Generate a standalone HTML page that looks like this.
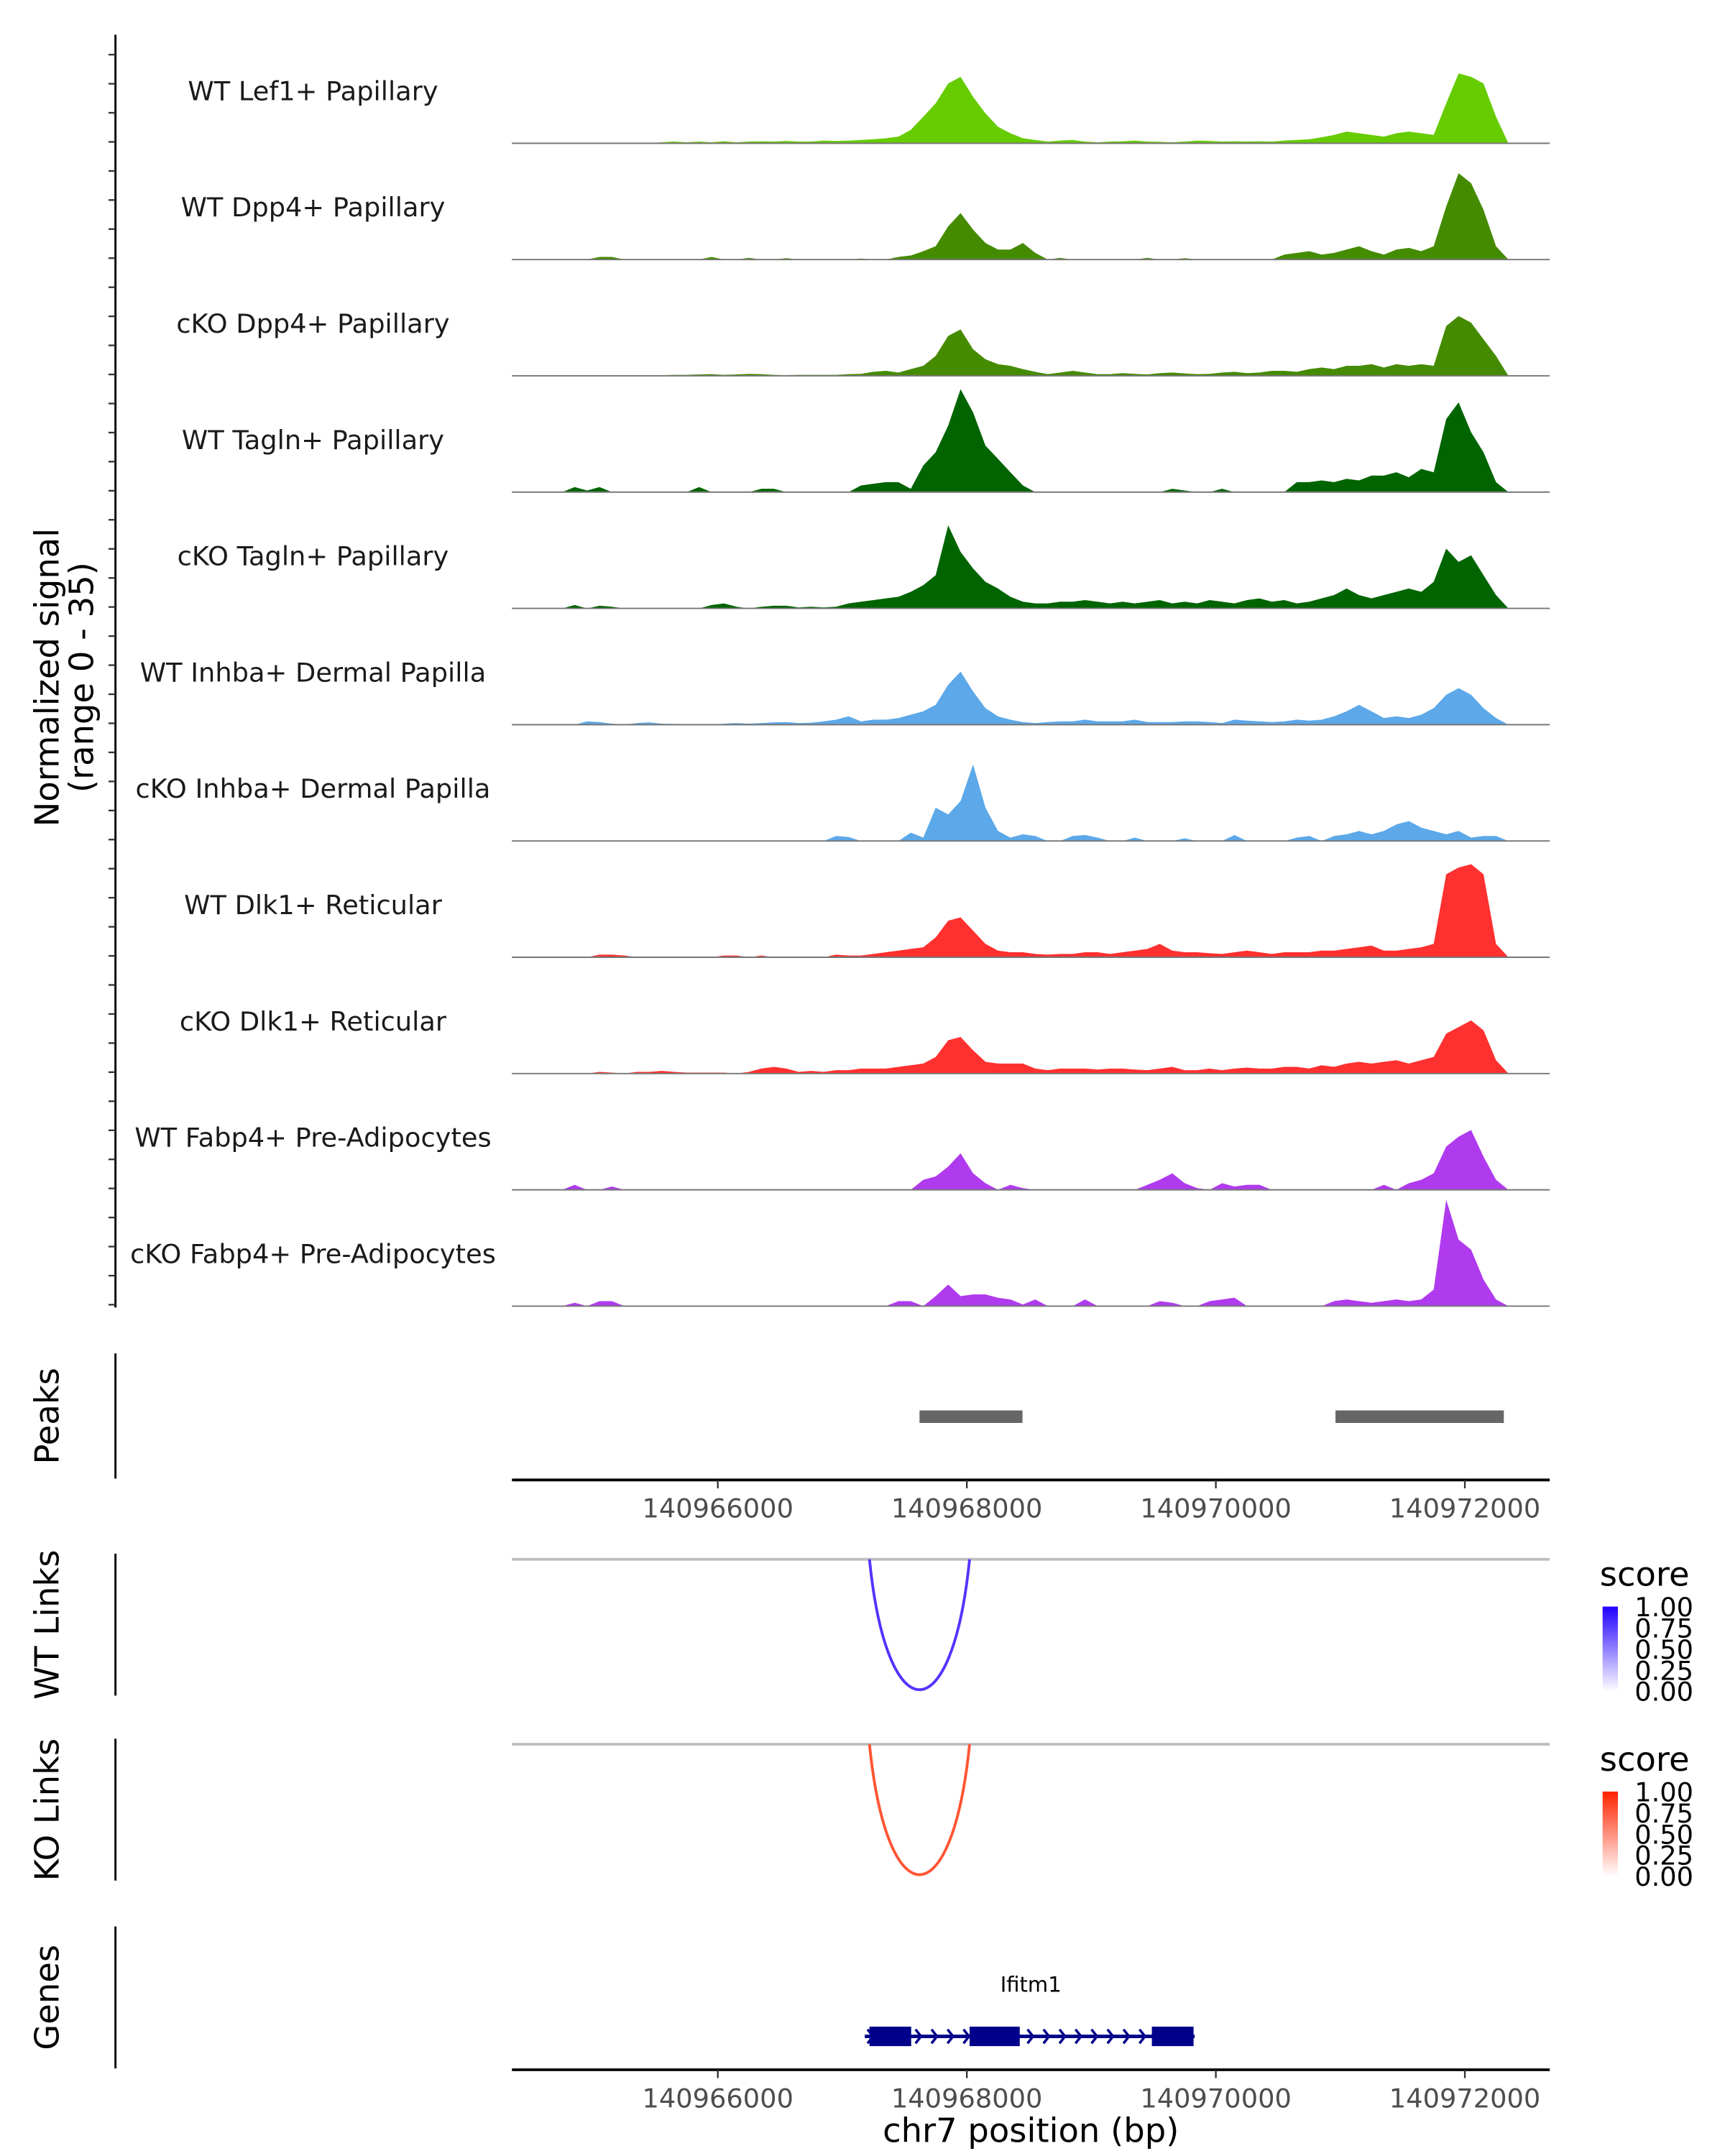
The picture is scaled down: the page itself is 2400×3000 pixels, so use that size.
<!DOCTYPE html>
<html><head><meta charset="utf-8"><style>
html,body{margin:0;padding:0;background:#fff}
svg{display:block}
text{font-family:"DejaVu Sans","Liberation Sans",sans-serif}
</style></head><body>
<svg id="chart" width="2400" height="3000" viewBox="0 0 1240 1550" xmlns="http://www.w3.org/2000/svg"></svg>
<script>
const binStart = 140964700;
const binSize = 100;
const trackNames = ["WT Lef1+ Papillary","WT Dpp4+ Papillary","cKO Dpp4+ Papillary","WT Tagln+ Papillary","cKO Tagln+ Papillary","WT Inhba+ Dermal Papilla","cKO Inhba+ Dermal Papilla","WT Dlk1+ Reticular","cKO Dlk1+ Reticular","WT Fabp4+ Pre-Adipocytes","cKO Fabp4+ Pre-Adipocytes"];
const trackColors = ["#66cc00","#458b00","#458b00","#006400","#006400","#5ca8e8","#5ca8e8","#ff3030","#ff3030","#b03aee","#b03aee"];
const sLef1 = [0,0,0,0,0,0,0,0,0.3,0.5,0.3,0.5,0.3,0.6,0.3,0.5,0.6,0.5,0.7,0.5,0.5,0.8,0.7,0.8,1,1.2,1.5,2,4,8,12,18,20,14,9,5,3,1.5,1,0.5,0.8,1,0.5,0.3,0.5,0.6,0.8,0.5,0.4,0.3,0.5,0.8,0.7,0.5,0.6,0.5,0.6,0.5,0.8,1,1.2,1.8,2.5,3.5,3,2.5,2,3,3.5,3,2.5,12,21,20,18,8,0];
const sWtDpp4 = [0,0,0,0.8,0.8,0,0,0,0,0,0,0,0.8,0,0,0.5,0,0,0.4,0,0,0,0,0,0.3,0,0,0.8,1.2,2.5,4,10,14,9,5,3,3,5,2,0,0.5,0,0,0,0,0,0,0.5,0,0,0.4,0,0,0,0,0,0,0,1.5,2,2.5,1.5,2,3,4,2.5,1.5,3,3.5,2.5,4,16,26,23,15,4,0];
const sKoDpp4 = [0,0,0,0,0,0,0,0,0.2,0.3,0.3,0.4,0.5,0.3,0.4,0.6,0.5,0.3,0.2,0.3,0.3,0.3,0.3,0.5,0.6,1.2,1.5,1,2,3,6,12,14,8,5,3.5,3,2,1.2,0.5,1,1.5,1,0.5,0.5,0.8,0.6,0.4,0.8,1,0.7,0.5,0.6,1,1.2,0.8,1,1.5,1.5,1.2,2,2.5,2,3,3,3.5,2.5,3.5,3,3.5,3,15,18,16,11,6,0];
const sWtTagln = [0,1.5,0.5,1.5,0,0,0,0,0,0,0,1.5,0,0,0,0,1,1,0,0,0,0,0,0,2,2.5,3,3,1,8,12,20,31,24,14,10,6,2,0,0,0,0,0,0,0,0,0,0,0,1,0.5,0,0,1,0,0,0,0,0,3,3,3.5,3,4,3.5,5,5,6,4.5,7,6,22,27,18,12,3,0];
const sKoTagln = [0,1,0,0.8,0.5,0,0,0,0,0,0,0,1,1.5,0.5,0,0.5,0.8,0.8,0.3,0.5,0.3,0.5,1.5,2,2.5,3,3.5,5,7,10,25,17,12,8,6,3.5,2,1.5,1.5,2,2,2.5,2,1.5,2,1.5,2,2.5,1.5,2,1.5,2.5,2,1.5,2.5,3,2,2.5,1.5,2,3,4,6,4,3,4,5,6,5,8,18,14,16,10,4,0];
const sWtInhba = [0,0,1,0.8,0.3,0,0.5,0.7,0.3,0.2,0,0,0,0.3,0.5,0.3,0.5,0.7,0.8,0.5,0.6,1,1.5,2.5,1,1.5,1.5,2,3,4,6,12,16,10,5,2.5,1.5,0.8,0.5,0.8,1,1,1.5,1,1,1,1.5,0.8,0.8,0.8,1,1,0.8,0.5,1.5,1.2,1,0.8,1,1.5,1.2,1.5,2.5,4,6,4,2,2.5,2,3,5,9,11,9,5,2,0];
const sKoInhba = [0,0,0,0,0,0,0,0,0,0,0,0,0,0,0,0,0,0,0,0,0,0,1.5,1.2,0,0,0,0,2.5,1,10,8,12,23,10,3,1,2,1.5,0,0,1.5,1.8,1,0,0,1,0,0,0,0.8,0,0,0,1.8,0,0,0,0,1,1.5,0,1.5,2,3,2,3,5,6,4,3,2,3,1,1.5,1.5,0];
const sWtDlk1 = [0,0,0,0.8,0.8,0.5,0,0,0,0,0,0,0,0.5,0.5,0,0.5,0,0,0,0,0,0.8,0.5,0.5,1,1.5,2,2.5,3,6,11,12,8,4,2,1.5,1.5,1,0.8,1,1,1.5,1.5,1,1.5,2,2.5,4,2,1.5,1.5,1.2,1,1.5,2,1.5,1,1.5,1.5,1.5,2,2,2.5,3,3.5,2,2,2.5,3,4,25,27,28,25,4,0];
const sKoDlk1 = [0,0,0,0.5,0.3,0,0.5,0.5,0.8,0.5,0.3,0.3,0.3,0.3,0,0.5,1.5,2,1.5,0.5,0.8,0.5,1,1,1.5,1.5,1.5,2,2.5,3,5,10,11,7,3.5,3,3,3,1.5,1,1.5,1.5,1.5,1.2,1.5,1.5,1.2,1,1.5,2,1,1,1.5,1,1.5,1.8,1.5,1.5,2,2,1.5,2.5,2,3,3.5,3,3.5,4,3,4,5,12,14,16,13,4,0];
const sWtFabp4 = [0,1.5,0,0,1,0,0,0,0,0,0,0,0,0,0,0,0,0,0,0,0,0,0,0,0,0,0,0,0,3,4,7,11,5,2,0,1.5,0.5,0,0,0,0,0,0,0,0,0,1.5,3,5,2,0.5,0,2,1,1.5,1.5,0,0,0,0,0,0,0,0,0,1.5,0,2,3,5,13,16,18,10,3,0];
const sKoFabp4 = [0,1,0,1.5,1.5,0,0,0,0,0,0,0,0,0,0,0,0,0,0,0,0,0,0,0,0,0,0,1.5,1.5,0,3,6.5,3,3.5,3.5,2.5,2,0.5,2,0,0,0,2,0,0,0,0,0,1.5,1,0,0,1.5,2,2.5,0,0,0,0,0,0,0,1.5,2,1.5,1,1.5,2,1.5,2,5,32,20,17,8,2,0];
const signals = [sLef1,sWtDpp4,sKoDpp4,sWtTagln,sKoTagln,sWtInhba,sKoInhba,sWtDlk1,sKoDlk1,sWtFabp4,sKoFabp4];
const yMax = 35;
const xTicks = [140966000,140968000,140970000,140972000];
const peakStarts = [140967620,140970961];
const peakEnds = [140968447,140972313];
const wtLinkStart = [140967218]; const wtLinkEnd = [140968022]; const wtLinkScore = [0.8];
const koLinkStart = [140967218]; const koLinkEnd = [140968022]; const koLinkScore = [0.8];
const exonStarts = [140967218,140968022,140969486];
const exonEnds = [140967553,140968425,140969821];
const geneStart = 140967180, geneEnd = 140969830;
const legendTicks = ["1.00","0.75","0.50","0.25","0.00"];

const NS="http://www.w3.org/2000/svg";
const svg=document.getElementById('chart');
function mk(tag,attrs,parent){const e=document.createElementNS(NS,tag);for(const k in attrs)e.setAttribute(k,attrs[k]);(parent||svg).appendChild(e);return e;}
const X0=368,X1=1114;
function xs(bp){return 516+(bp-140966000)*0.0895;}
const trackH=83.6, firstBase=103;

let a=mk('line',{x1:83,y1:25,x2:83,y2:940,stroke:'#000','stroke-width':1.5});


for(let k=0;k<=43;k++){const y=938-k*trackH/4;let t=mk('line',{x1:78,y1:y,x2:83,y2:y,stroke:'#333','stroke-width':1.2});

}
let yt=mk('text',{x:0,y:0,'font-size':24,'text-anchor':'middle',fill:'#000',transform:'translate(42,487) rotate(-90)'});
yt.textContent='Normalized signal';


let yt2=mk('text',{x:0,y:0,'font-size':24,'text-anchor':'middle',fill:'#000',transform:'translate(67,487) rotate(-90)'});
yt2.textContent='(range 0 - 35)';



signals.forEach((vals,ti)=>{
  const base=firstBase+ti*trackH;
  let g=mk('g',{});
  
  
  let pts=[[xs(binStart),base]];
  vals.forEach((v,i)=>{const x=xs(binStart+i*binSize+binSize/2);pts.push([x,base-v/yMax*trackH]);});
  pts.push([xs(binStart+(vals.length-1)*binSize+binSize/2),base]);
  let p=mk('polygon',{points:pts.map(p=>p[0].toFixed(1)+','+p[1].toFixed(1)).join(' '),fill:trackColors[ti]},g);
  
  
  let bl=mk('line',{x1:X0,y1:base,x2:X1,y2:base,stroke:'#777','stroke-width':1},g);
  
  
  let lb=mk('text',{x:225,y:base-31,'font-size':19,'text-anchor':'middle',fill:'#1a1a1a'},g);
  lb.textContent=trackNames[ti];
  
  
});

function panelAxis(y1,y2,label,ly,name){
  let l=mk('line',{x1:83,y1:y1,x2:83,y2:y2,stroke:'#000','stroke-width':1.5});
  
  
  let t=mk('text',{x:0,y:0,'font-size':24,'text-anchor':'middle',fill:'#000',transform:'translate(42,'+ly+') rotate(-90)'});
  t.textContent=label;
  
  
}
function xAxis(y,name){
  let l=mk('line',{x1:X0,y1:y,x2:X1,y2:y,stroke:'#000','stroke-width':2});
  
  
  xTicks.forEach(v=>{const x=xs(v);
    let t=mk('line',{x1:x,y1:y,x2:x,y2:y+6,stroke:'#333','stroke-width':1.2});
    
    
    let tx=mk('text',{x:x,y:y+27,'font-size':19,'text-anchor':'middle',fill:'#4d4d4d'});
    tx.textContent=v;
    
    });
}
panelAxis(973,1063,'Peaks',1018,'peaks');
peakStarts.forEach((s,i)=>{let r=mk('rect',{x:xs(s),y:1014,width:xs(peakEnds[i])-xs(s),height:9,fill:'#666'});

});
xAxis(1064,'peaks-x-axis');

function linksPanel(top,label,name,s,e,sc,color,gradId,c1){
  panelAxis(top-4,top+98,label,top+47,name);
  let gl=mk('line',{x1:X0,y1:top,x2:X1,y2:top,stroke:'#bebebe','stroke-width':2});
  
  
  s.forEach((st,i)=>{const xa=xs(st),xb=xs(e[i]),xm=(xa+xb)/2,d=94*sc[i]/0.8;
    let p=mk('path',{d:`M${xa},${top} C${xa+ (xm-xa)*0.35},${top+d*1.33} ${xb-(xb-xm)*0.35},${top+d*1.33} ${xb},${top}`,fill:'none',stroke:color,'stroke-width':2});
    
    });
  const defs=mk('defs',{});
  const lg=mk('linearGradient',{id:gradId,x1:0,y1:1,x2:0,y2:0},defs);
  mk('stop',{offset:0,'stop-color':'#ffffff'},lg);mk('stop',{offset:1,'stop-color':c1},lg);
  let st=mk('text',{x:1150,y:top+19,'font-size':24,fill:'#000'});st.textContent='score';
  
  
  let r=mk('rect',{x:1152,y:top+34,width:11,height:61,fill:`url(#${gradId})`});
  
  
  legendTicks.forEach((lt,i)=>{let t=mk('text',{x:1175,y:top+41+i*15.2,'font-size':19,fill:'#000'});t.textContent=lt;
    
    });
}
linksPanel(1121,'WT Links','wt-links',wtLinkStart,wtLinkEnd,wtLinkScore,'#5533ff','gb','#2200ff');
linksPanel(1254,'KO Links','ko-links',koLinkStart,koLinkEnd,koLinkScore,'#ff5533','gr','#ff2200');

panelAxis(1385,1487,'Genes',1436,'genes');
let gn=mk('text',{x:741,y:1432,'font-size':15,'text-anchor':'middle',fill:'#000'});gn.textContent='Ifitm1';


let gline=mk('line',{x1:xs(geneStart),y1:1464,x2:xs(geneEnd),y2:1464,stroke:'#00008b','stroke-width':2.5});


for(let x=xs(geneStart)+2;x<xs(geneEnd)-4;x+=11.5){let ar=mk('path',{d:`M${x},${1459} L${x+4},1464 L${x},1469`,fill:'none',stroke:'#00008b','stroke-width':1.8});

}
exonStarts.forEach((s,i)=>{let r=mk('rect',{x:xs(s),y:1457,width:xs(exonEnds[i])-xs(s),height:14,fill:'#00008b'});

});
xAxis(1488,'genes-x-axis');
let xt=mk('text',{x:741,y:1540,'font-size':24,'text-anchor':'middle',fill:'#000'});xt.textContent='chr7 position (bp)';


</script>
</body></html>
